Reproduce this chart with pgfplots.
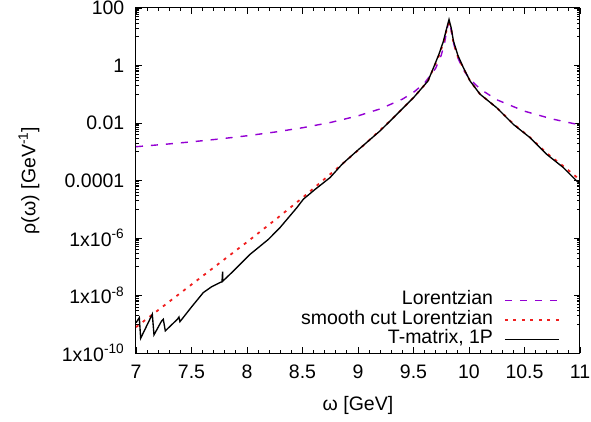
\documentclass[border=0pt]{standalone}
\usepackage{fontspec}
\setmainfont{Liberation Sans}
\usepackage{pgfplots}
\pgfplotsset{compat=1.18}
\definecolor{lorpurple}{HTML}{9400D3}
\definecolor{cutred}{HTML}{F01E1E}

\begin{document}
\fontsize{19.5}{23}\selectfont
\begin{tikzpicture}
\begin{axis}[
    name=ax,
    scale only axis,
    width=444pt, height=345pt,
    xmin=7, xmax=11,
    ymode=log, ymin=1e-10, ymax=100,
    xtick={7,7.5,...,11},
    minor x tick num=4,
    ytick={1e-10,1e-8,1e-6,1e-4,1e-2,1,100},
    yticklabels={1x10\textsuperscript{-10},1x10\textsuperscript{-8},1x10\textsuperscript{-6},0.0001,0.01,1,100},
    minor ytick={1e-9,2e-9,3e-9,4e-9,5e-9,6e-9,7e-9,8e-9,9e-9,
                 1e-7,2e-7,3e-7,4e-7,5e-7,6e-7,7e-7,8e-7,9e-7,
                 1e-5,2e-5,3e-5,4e-5,5e-5,6e-5,7e-5,8e-5,9e-5,
                 1e-3,2e-3,3e-3,4e-3,5e-3,6e-3,7e-3,8e-3,9e-3,
                 0.1,0.2,0.3,0.4,0.5,0.6,0.7,0.8,0.9,
                 10,20,30,40,50,60,70,80,90},
    tick align=inside,
    major tick length=6pt, minor tick length=3pt,
    every tick/.style={black, line width=0.8pt},
    axis line style={line width=1pt},
    /pgf/number format/assume math mode=true,
    xticklabel style={yshift=-5pt},
    yticklabel style={xshift=-5pt},
    xlabel={ω [GeV]},
    xlabel style={at={(axis description cs:0.5,0)}, anchor=center, yshift=-52pt},
    ylabel={ρ(ω) [GeV\textsuperscript{-1}]},
    ylabel style={at={(axis description cs:0,0.5)}, anchor=center, yshift=107pt},
    legend style={draw=none, fill=none, inner sep=0pt,
                  at={(axis description cs:0.955,0.181)}, anchor=north east,
                  nodes={inner sep=0pt, text height=14pt, text depth=5.5pt},
                  font=\fontsize{19.5}{23}\selectfont},
    legend cell align=right,
    legend plot pos=right,
    legend image code/.code={\path (0pt,0pt); \draw[#1] (11pt,0pt) -- (65pt,0pt);},
]
% Lorentzian
\addplot[draw=lorpurple, line width=1.4pt, dash pattern=on 7pt off 8pt] coordinates {
    (7.0,0.001496) (7.25,0.001802) (7.5,0.002211) (7.75,0.002777) (8.0,0.003593)
    (8.25,0.004828) (8.5,0.006830) (8.75,0.01039) (9.0,0.01770) (9.2,0.03096)
    (9.4,0.06746) (9.5,0.1162) (9.6,0.2459) (9.7,0.8082) (9.75,2.278)
    (9.78,6.185) (9.80,16.44) (9.82,36.73) (9.84,16.44) (9.86,6.185)
    (9.89,2.278) (9.94,0.8082) (10.0,0.3636) (10.1,0.1518) (10.25,0.06436)
    (10.5,0.02574) (10.75,0.01376) (11.0,0.008546)
};
% smooth cut Lorentzian
\addplot[draw=cutred, line width=1.8pt, dash pattern=on 3pt off 5.5pt] coordinates {
    (7.0,7.94e-10) (7.25,4.37e-9) (7.5,2.40e-8) (7.75,1.32e-7) (8.0,7.24e-7)
    (8.25,4.17e-6) (8.5,2.51e-5) (8.75,1.66e-4) (8.86,3.80e-4) (9.0,1.12e-3) (9.2,5.62e-3)
    (9.35,0.0200) (9.5,0.0759) (9.63,0.288) (9.68,0.794) (9.73,2.24)
    (9.77,6.31) (9.80,17.8) (9.82,28.2) (9.84,17.8) (9.86,6.31)
    (9.90,2.0) (9.95,0.794) (10.01,0.288) (10.1,0.1) (10.25,0.0339)
    (10.4,9.33e-3) (10.55,3.16e-3) (10.7,8.91e-4) (10.85,3.16e-4) (11.0,1.05e-4)
};
% T-matrix, 1P
\addplot[draw=black, line width=1.35pt] coordinates {
    (7.0,1.12e-9) (7.03,1.70e-9) (7.042,3.24e-10) (7.147,2.24e-9) (7.162,4.27e-10)
    (7.23,1.29e-9) (7.246,1.48e-9) (7.264,5.89e-10) (7.372,1.48e-9) (7.387,1.78e-9)
    (7.396,1.23e-9) (7.5,3.98e-9) (7.606,1.26e-8) (7.68,2.0e-8) (7.757,2.82e-8)
    (7.775,3.02e-8) (7.78,6.76e-8) (7.782,3.16e-8) (7.877,7.08e-8) (8.027,2.69e-7)
    (8.192,8.91e-7) (8.297,2.29e-6) (8.448,1.12e-5) (8.508,2.24e-5) (8.613,4.90e-5)
    (8.748,1.26e-4) (8.86,3.80e-4)
    (9.0,1.15e-3) (9.2,5.37e-3) (9.35,0.0200) (9.5,0.0759) (9.63,0.288)
    (9.68,0.832) (9.73,2.51) (9.77,7.08) (9.80,20.4) (9.82,39.8)
    (9.84,20.0) (9.86,7.08) (9.90,2.24) (9.95,0.832) (10.01,0.288)
    (10.1,0.1) (10.25,0.0339) (10.4,8.91e-3) (10.55,3.09e-3) (10.7,8.13e-4)
    (10.85,2.82e-4) (11.0,7.41e-5)
};
\legend{Lorentzian, smooth cut Lorentzian, {T-matrix, 1P}}
\end{axis}
\pgfresetboundingbox
\path[use as bounding box] ([xshift=-136pt,yshift=-69pt]ax.south west) rectangle ([xshift=11pt,yshift=8pt]ax.north east);
\end{tikzpicture}
\end{document}
